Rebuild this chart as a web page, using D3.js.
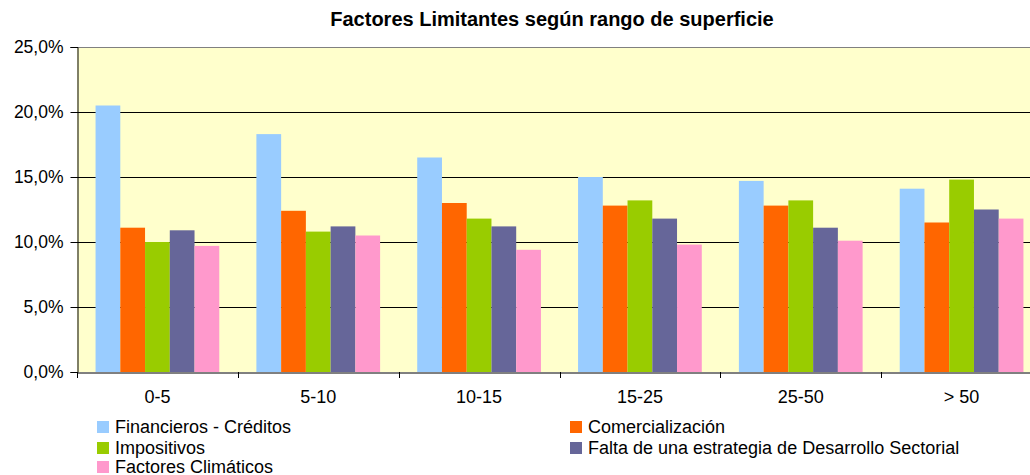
<!DOCTYPE html>
<html><head><meta charset="utf-8">
<script src="https://cdn.jsdelivr.net/npm/d3@7/dist/d3.min.js"></script>
<style>body{margin:0;background:#fff;}svg{display:block;font-family:"Liberation Sans",Arial,sans-serif;}</style>
</head><body><svg id="c" width="1030" height="475"></svg>
<script>
const title = "Factores Limitantes según rango de superficie";
const categories = ["0-5","5-10","10-15","15-25","25-50","> 50"];
const seriesNames = ["Financieros - Créditos","Comercialización","Impositivos","Falta de una estrategia de Desarrollo Sectorial","Factores Climáticos"];
const seriesColors = ["#99CCFF","#FF6600","#99CC00","#666699","#FF99CC"];
const financieros = [20.5,18.3,16.5,15.0,14.7,14.1];
const comercializacion = [11.1,12.4,13.0,12.8,12.8,11.5];
const impositivos = [10.0,10.8,11.8,13.2,13.2,14.8];
const estrategia = [10.9,11.2,11.2,11.8,11.1,12.5];
const climaticos = [9.7,10.5,9.4,9.8,10.1,11.8];
const yTicks = [0,5,10,15,20,25];
const seriesValues = [financieros,comercializacion,impositivos,estrategia,climaticos];

const svg = d3.select("#c");
const pLeft = 77, pTop = 47, pBottom = 372, plotW = 965;
const x = d3.scaleBand().domain(categories).range([pLeft, pLeft+plotW]).paddingInner(0).paddingOuter(0);
const y = d3.scaleLinear().domain([0,25]).range([pBottom, pTop]);
const bw = x.bandwidth()/6.5;
const xs = d3.scaleBand().domain(d3.range(5)).range([0, bw*5]);

svg.append("rect").attr("x",pLeft).attr("y",pTop).attr("width",plotW).attr("height",pBottom-pTop).attr("fill","#FFFFCC");

// gridlines
svg.append("g").selectAll("line").data(yTicks.filter(t=>t>0)).join("line")
  .attr("x1",pLeft).attr("x2",pLeft+plotW)
  .attr("y1",d=>Math.round(y(d))+0.5).attr("y2",d=>Math.round(y(d))+0.5)
  .attr("stroke",d=>d===25?"#808080":"#000").attr("stroke-width",1);

// bars
const rows = [];
seriesValues.forEach((vals,si)=>vals.forEach((v,ci)=>rows.push({si,ci,v})));
svg.append("g").selectAll("rect").data(rows).join("rect")
  .attr("x",d=>x(categories[d.ci]) + bw*0.75 + xs(d.si))
  .attr("width",xs.bandwidth())
  .attr("y",d=>y(d.v)).attr("height",d=>pBottom-y(d.v))
  .attr("fill",d=>seriesColors[d.si]);

// y axis
const yAxis = d3.axisLeft(y).tickValues(yTicks).tickSize(7).tickPadding(7)
  .tickFormat(d=>d3.format(".1f")(d).replace(".",",")+"%");
const ga = svg.append("g").attr("transform",`translate(${pLeft+0.5},0)`).call(yAxis);
ga.select(".domain").attr("stroke","#000");
ga.selectAll(".tick line").attr("stroke","#000");
ga.selectAll("text").attr("font-size",17.5).attr("fill","#000").attr("font-family","Liberation Sans, Arial, sans-serif");

// x axis
const xAxis = d3.axisBottom(x).tickSize(0).tickPadding(18);
const gx = svg.append("g").attr("transform",`translate(0,${pBottom+0.5})`).call(xAxis);
gx.select(".domain").attr("stroke","#000");
gx.selectAll("text").attr("font-size",18).attr("fill","#000").attr("font-family","Liberation Sans, Arial, sans-serif");
const bounds = categories.map(c=>x(c)).concat([pLeft+plotW]);
svg.append("g").selectAll("line").data(bounds).join("line")
  .attr("x1",d=>Math.round(d)+0.5).attr("x2",d=>Math.round(d)+0.5)
  .attr("y1",pBottom).attr("y2",pBottom+6).attr("stroke","#000");

// title
svg.append("text").attr("x",552).attr("y",26).attr("text-anchor","middle")
  .attr("font-size",20).attr("font-weight","bold").text(title);

// legend
const legPos = [[97,427],[570,427],[97,448],[570,448],[97,467]];
const lg = svg.append("g").selectAll("g").data(seriesNames).join("g")
  .attr("transform",(d,i)=>`translate(${legPos[i][0]},${legPos[i][1]})`);
lg.append("rect").attr("x",0).attr("y",-6).attr("width",12).attr("height",12).attr("fill",(d,i)=>seriesColors[i]);
lg.append("text").attr("x",18).attr("y",6).attr("font-size",18).text(d=>d);
</script></body></html>
